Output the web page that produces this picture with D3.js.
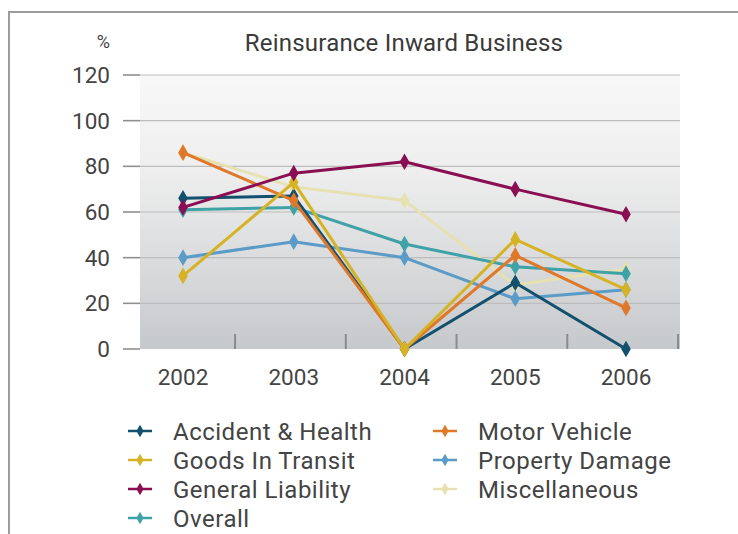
<!DOCTYPE html>
<html><head><meta charset="utf-8">
<script src="https://cdn.jsdelivr.net/npm/d3@7"></script>
<style>
html,body{margin:0;padding:0;background:#fff;}
text{font-family:Roboto,"Open Sans",sans-serif;}
</style></head>
<body><svg id="c" width="738" height="534"></svg>
<script>
const years = ["2002","2003","2004","2005","2006"];
const yTicks = [0,20,40,60,80,100,120];
const title = "Reinsurance Inward Business";
const seriesNames = ["Accident & Health","Motor Vehicle","Goods In Transit","Property Damage","General Liability","Miscellaneous","Overall"];
const seriesColors = ["#12506e","#e0782a","#d6b324","#5b9bc7","#8a0f52","#e6e1b0","#3fa2a6"];
const accidentHealth = [66,67,0,29,0];
const motorVehicle = [86,65,0,41,18];
const goodsInTransit = [32,73,0,48,26];
const propertyDamage = [40,47,40,22,26];
const generalLiability = [62,77,82,70,59];
const miscellaneous = [86,71,65,28,35];
const overall = [61,62,46,36,33];
const seriesValues = [accidentHealth,motorVehicle,goodsInTransit,propertyDamage,generalLiability,miscellaneous,overall];
const drawOrder = [5,3,6,0,1,2,4];

const svg = d3.select("#c");
// frame
svg.append("path").attr("d","M9,534 L9,12 L738,12").attr("fill","none").attr("stroke","#9c9c9c").attr("stroke-width",2);

const x = d3.scalePoint().domain(years).range([183,626]);
const y = d3.scaleLinear().domain([0,120]).range([349,75]);
const plotL = 140, plotR = 680;

const defs = svg.append("defs");
const g = defs.append("linearGradient").attr("id","bg").attr("x1",0).attr("y1",0).attr("x2",0).attr("y2",1);
g.append("stop").attr("offset","0%").attr("stop-color","#f8f8f8");
g.append("stop").attr("offset","35%").attr("stop-color","#eeeeee");
g.append("stop").attr("offset","100%").attr("stop-color","#c6c9cc");
svg.append("rect").attr("x",plotL).attr("y",y(120)).attr("width",plotR-plotL).attr("height",y(0)-y(120)).attr("fill","url(#bg)");

// gridlines
svg.append("g").selectAll("line").data(yTicks.slice(1)).join("line")
  .attr("x1",plotL).attr("x2",plotR).attr("y1",d=>y(d)).attr("y2",d=>y(d))
  .attr("stroke","#bdbdbd").attr("stroke-width",1.2);
// left tick dashes
svg.append("g").selectAll("line").data(yTicks).join("line")
  .attr("x1",123).attr("x2",140).attr("y1",d=>y(d)).attr("y2",d=>y(d))
  .attr("stroke","#909090").attr("stroke-width",1.6);
// y labels
svg.append("g").selectAll("text").data(yTicks).join("text")
  .attr("x",110).attr("y",d=>y(d)).attr("dy","0.36em").attr("text-anchor","end")
  .attr("font-size",22.5).attr("fill","#444").text(d=>d);
// bottom ticks between categories
const step = x.step();
svg.append("g").selectAll("line").data(years).join("line")
  .attr("x1",d=>x(d)+step*0.47).attr("x2",d=>x(d)+step*0.47)
  .attr("y1",y(0)-15).attr("y2",y(0))
  .attr("stroke","#8a8a8a").attr("stroke-width",2);
// x labels
svg.append("g").selectAll("text").data(years).join("text")
  .attr("x",d=>x(d)).attr("y",385).attr("text-anchor","middle")
  .attr("font-size",22.5).attr("fill","#444").text(d=>d);

// title
svg.append("text").attr("x",404).attr("y",51).attr("text-anchor","middle").attr("font-size",24).attr("letter-spacing",0.2).attr("fill","#3a3a3a").text(title);
svg.append("text").attr("x",110).attr("y",48).attr("text-anchor","end").attr("font-size",18).attr("fill","#444").text("%");

// lines
const line = d3.line().x((d,i)=>x(years[i])).y(d=>y(d));
const diamond = d3.symbol().type(d3.symbolDiamond).size(80);
drawOrder.forEach(si=>{
  const gg = svg.append("g");
  gg.append("path").datum(seriesValues[si]).attr("d",line).attr("fill","none")
    .attr("stroke",seriesColors[si]).attr("stroke-width",3).attr("stroke-linejoin","round");
  gg.selectAll("path.m").data(seriesValues[si]).join("path").attr("class","m")
    .attr("d",diamond).attr("transform",(d,i)=>`translate(${x(years[i])},${y(d)})`)
    .attr("fill",seriesColors[si]);
});

// legend
const legendCols = [[0,2,4,6],[1,3,5]];
const colX = [140,445];
legendCols.forEach((col,ci)=>{
  col.forEach((si,ri)=>{
    const cy = 431 + ri*29;
    const lg = svg.append("g");
    lg.append("line").attr("x1",colX[ci]-12).attr("x2",colX[ci]+12).attr("y1",cy).attr("y2",cy)
      .attr("stroke",seriesColors[si]).attr("stroke-width",2.5);
    lg.append("path").attr("d",d3.symbol().type(d3.symbolDiamond).size(45)).attr("transform",`translate(${colX[ci]},${cy})`).attr("fill",seriesColors[si]);
    lg.append("text").attr("x",colX[ci]+33).attr("y",cy).attr("dy","0.36em").attr("font-size",24).attr("letter-spacing",0.5).attr("fill","#444").text(seriesNames[si]);
  });
});
</script></body></html>
